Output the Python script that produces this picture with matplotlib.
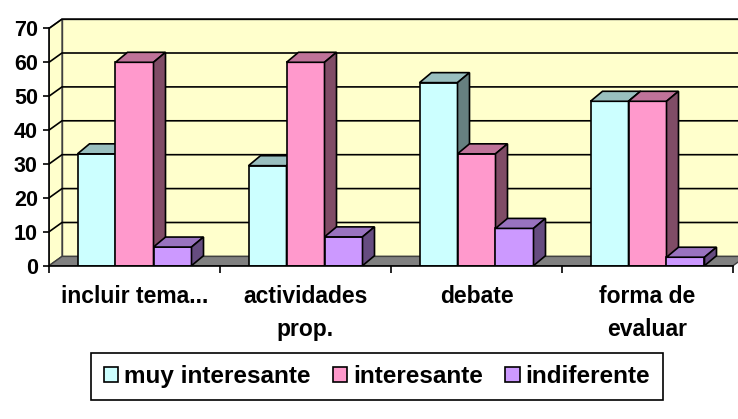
import matplotlib
matplotlib.use("Agg")
import matplotlib.pyplot as plt
from matplotlib.patches import Polygon, Patch

plt.rcParams['font.family'] = ['Liberation Sans', 'DejaVu Sans']
plt.rcParams['font.weight'] = 'bold'

# === DATOS ===
categorias = ["incluir tema...", "actividades\nprop.", "debate", "forma de\nevaluar"]
series = ["muy interesante", "interesante", "indiferente"]
muy_interesante = [33, 29.5, 54, 48.5]
interesante = [60, 60, 33, 48.5]
indiferente = [5.5, 8.5, 11, 2.5]
valores = [muy_interesante, interesante, indiferente]
yticks = [0, 10, 20, 30, 40, 50, 60, 70]

# colores: frente, arriba, lado
frente = ["#CCFFFF", "#FF99CC", "#CC99FF"]
arriba = ["#99BFBF", "#BF7399", "#9973BF"]
lado = ["#668080", "#804C66", "#664C80"]

# === GEOMETRIA (profundidad 3D simulada) ===
W, H = 738, 419
px_cat = 171.0       # pixeles por categoria
px_val = 3.39        # pixeles por unidad
dxb, dyb = 12 / px_cat, 10 / px_val     # profundidad barras
dxw, dyw = 13 / px_cat, 9.3 / px_val    # profundidad paredes
ancho = 1 / 4.5      # gap 150 %
ymax = 70

fig = plt.figure(figsize=(W / 100, H / 100), dpi=100)
x0_px, y0_px = 49, 265.7
xlim = (W - x0_px) / px_cat
ytop = ymax + dyw + 0.3
ax = fig.add_axes([x0_px / W, 1 - y0_px / H, (W - x0_px) / W, ytop * px_val / H])
ax.set_xlim(0, xlim)
ax.set_ylim(0, ytop)
ax.patch.set_alpha(0)
n = len(categorias)

# paredes
ax.add_patch(Polygon([(dxw, dyw), (n + dxw, dyw), (n + dxw, ymax + dyw), (dxw, ymax + dyw)],
                     closed=True, fc="#FFFFCC", ec="#404040", lw=1, zorder=0))
ax.add_patch(Polygon([(0, 0), (dxw, dyw), (dxw, ymax + dyw), (0, ymax)],
                     closed=True, fc="#FFFFCC", ec="#404040", lw=1, zorder=0))
# suelo
ax.add_patch(Polygon([(0, 0), (n, 0), (n + dxw, dyw), (dxw, dyw)],
                     closed=True, fc="#808080", ec="#404040", lw=1, zorder=1))
# lineas de division
for v in yticks[1:]:
    ax.plot([0, dxw, n + dxw], [v, v + dyw, v + dyw], color="black", lw=1.2, zorder=1)

# barras
for j in range(n):
    for i, vals in enumerate(valores):
        v = vals[j]
        x = j + 0.75 * ancho + i * ancho
        z = 3 + j * 3 + i
        ax.bar(x, v, width=ancho, align='edge', color=frente[i], edgecolor="black",
               lw=1.2, zorder=z)
        ax.add_patch(Polygon([(x, v), (x + ancho, v), (x + ancho + dxb, v + dyb), (x + dxb, v + dyb)],
                             closed=True, fc=arriba[i], ec="black", lw=1.2, zorder=z))
        ax.add_patch(Polygon([(x + ancho, 0), (x + ancho, v), (x + ancho + dxb, v + dyb), (x + ancho + dxb, dyb)],
                             closed=True, fc=lado[i], ec="black", lw=1.2, zorder=z))

# ejes
for s in ["top", "right"]:
    ax.spines[s].set_visible(False)
ax.spines["left"].set_bounds(0, ymax)
ax.spines["bottom"].set_bounds(0, n)
ax.spines["left"].set_zorder(50)
ax.spines["bottom"].set_zorder(50)
ax.spines["left"].set_linewidth(1.2)
ax.spines["bottom"].set_linewidth(1.2)

ax.set_yticks(yticks)
ax.set_yticklabels([str(t) for t in yticks], fontsize=15.5, fontweight='bold')
ax.tick_params(axis='y', length=4.5, width=1.2, pad=3.5)
ax.set_xticks(range(n + 1))
ax.set_xticklabels([])
ax.tick_params(axis='x', which='major', length=5, width=1.2)
ax.set_xticks([j + 0.5 for j in range(n)], minor=True)
ax.set_xticklabels(categorias, minor=True, fontsize=16.5, fontweight='bold')
ax.tick_params(axis='x', which='minor', length=0, pad=14)
for t in ax.get_xticklabels(minor=True):
    t.set_linespacing(1.55)
    t.set_verticalalignment('top')

# leyenda
handles = [Patch(fc=frente[i], ec="black", lw=1.2) for i in range(3)]
leg = fig.legend(handles, series, loc='center', bbox_to_anchor=(377 / W, 1 - 376.5 / H),
                 ncol=3, fancybox=False, edgecolor="black", framealpha=1,
                 prop={'size': 17.5, 'weight': 'bold'},
                 handlelength=0.6, handleheight=0.6, handletextpad=0.25,
                 columnspacing=0.9, borderpad=0.5, borderaxespad=0)
leg.get_frame().set_linewidth(1.2)

fig.savefig("out.png", dpi=100)
